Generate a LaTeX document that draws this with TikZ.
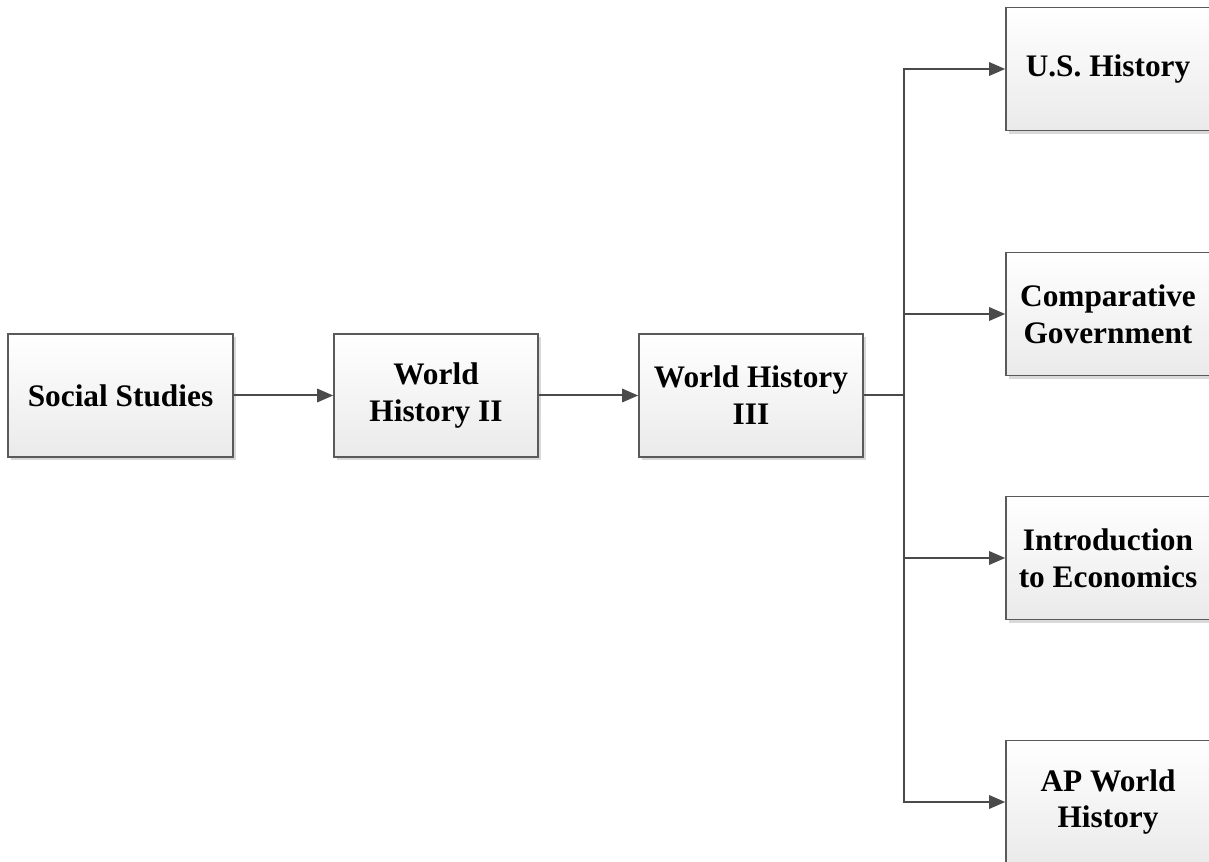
\documentclass[tikz,border=0pt]{standalone}
\usepackage{fontspec}
\setmainfont{Liberation Serif}
\usetikzlibrary{arrows.meta,shadows}
\definecolor{boxline}{HTML}{5A5A5A}
\definecolor{boxgray}{HTML}{EAEAEA}
\definecolor{linkgray}{HTML}{4A4A4A}
\begin{document}
\begin{tikzpicture}[x=0.75pt,y=-0.75pt,
  box/.style={draw=boxline, line width=1.2pt, top color=white, bottom color=boxgray,
    align=center, inner sep=0pt, minimum height=92pt,
    font=\bfseries\fontsize{23.5}{27.7}\selectfont,
    drop shadow={shadow xshift=2pt, shadow yshift=-2.5pt, opacity=0.15, fill=black}},
  link/.style={draw=linkgray, line width=1.5pt, -{Triangle[length=12pt,width=10pt]}}]
\useasboundingbox (0,0) rectangle (1209,862);

% main chain
\node[box, minimum width=168.75pt] (ss)  at (120.5,395.5) {Social Studies};
\node[box, minimum width=153pt]    (wh2) at (436,395.5)   {World\\History II};
\node[box, minimum width=168pt]    (wh3) at (751,395.5)   {World History\\III};

% course options
\node[box, minimum width=153pt] (us) at (1108,69)  {U.S. History};
\node[box, minimum width=153pt] (cg) at (1108,314) {Comparative\\Government};
\node[box, minimum width=153pt] (ie) at (1108,558) {Introduction\\to Economics};
\node[box, minimum width=153pt] (ap) at (1108,802) {AP World\\History};

\coordinate (j) at (904,395.5);

\draw[link] (ss) -- (wh2);
\draw[link] (wh2) -- (wh3);
\draw[draw=linkgray, line width=1.5pt] (wh3.east) -- (j);
\draw[link] (j) |- (us.west);
\draw[link] (j) |- (cg.west);
\draw[link] (j) |- (ie.west);
\draw[link] (j) |- (ap.west);
\end{tikzpicture}
\end{document}
